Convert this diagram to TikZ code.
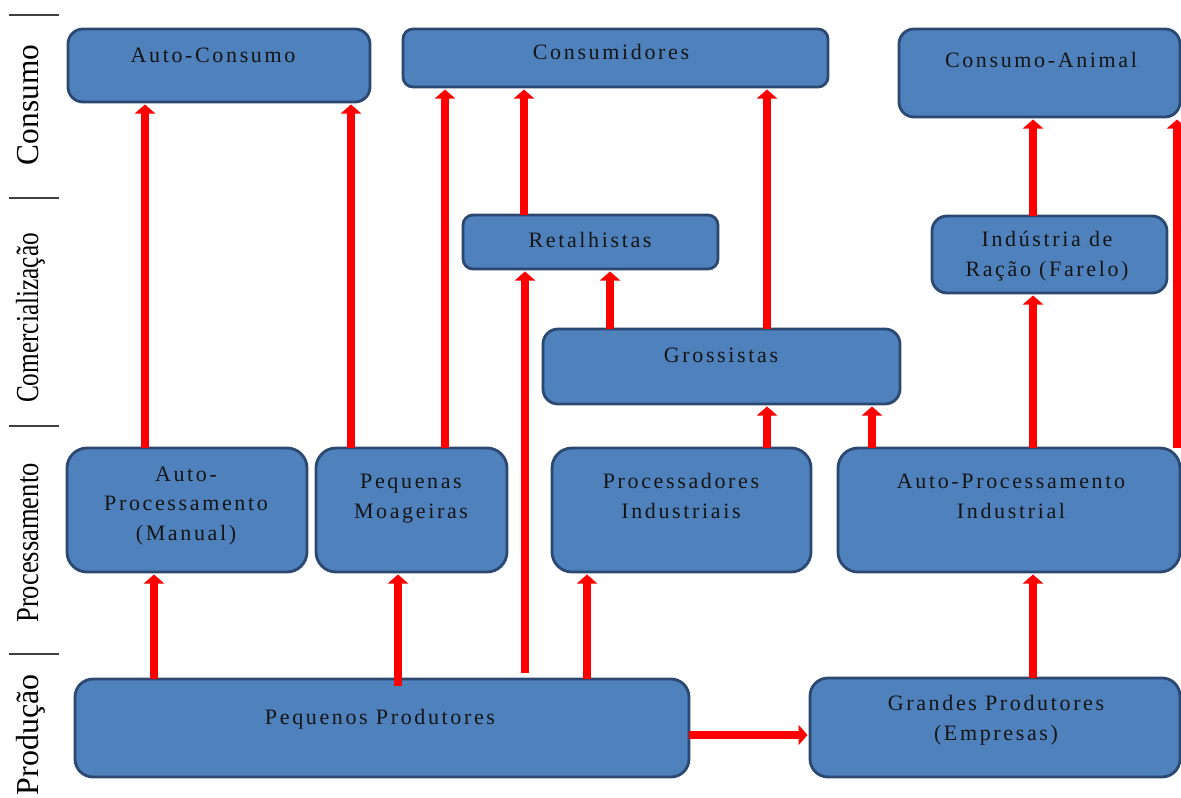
\documentclass[tikz,border=0pt]{standalone}
\usepackage{fontspec}
\setmainfont{Liberation Serif}
\newfontfamily\boxfont[LetterSpace=12]{Liberation Serif}
\usetikzlibrary{arrows.meta}
\definecolor{boxfill}{HTML}{4F81BD}
\definecolor{boxline}{HTML}{2A4870}
\definecolor{txt}{HTML}{151515}
\definecolor{sep}{HTML}{404040}
\begin{document}
\begin{tikzpicture}[x=1pt,y=-1pt,
  box/.style={draw=boxline, fill=boxfill, line width=2.8pt, rounded corners=15pt,
    inner sep=0pt, outer sep=0pt},
  smallbox/.style={box, rounded corners=10pt},
  lbl/.style={font=\boxfont\fontsize{22}{29.5}\selectfont, text=txt, align=center, anchor=base, inner sep=0pt},
  side/.style={font=\fontsize{32}{36}\selectfont, rotate=90, anchor=base, inner sep=0pt},
  arr/.style={draw=red, line width=8pt, -{Triangle[width=20pt,length=9pt]}, shorten >=2.5pt},
  sepline/.style={draw=sep, line width=1.6pt}]
\useasboundingbox (0,0) rectangle (1181,798);

% separators
\draw[sepline] (9,15) -- (59,15);
\draw[sepline] (9,198) -- (59,198);
\draw[sepline] (9,426) -- (59,426);
\draw[sepline] (9,654) -- (59,654);

% side labels
\node[side] (sCons) at (38,105) {\scalebox{0.98}[1]{Consumo}};
\node[side] (sCom) at (38,318) {\scalebox{0.79}[1]{Comercialização}};
\node[side] (sProc) at (38,543) {\scalebox{0.83}[1]{Processamento}};
\node[side] (sProd) at (38,735) {\scalebox{1.0}[1]{Produção}};

% boxes
\node[box, minimum width=302pt, minimum height=73pt] (ac) at (219,65.5) {};
\node[smallbox, minimum width=425pt, minimum height=58pt] (cons) at (615.5,58) {};
\node[box, minimum width=281pt, minimum height=88pt] (ca) at (1039.5,73) {};
\node[smallbox, minimum width=255pt, minimum height=54pt] (ret) at (590.5,242) {};
\node[box, minimum width=235pt, minimum height=77pt] (ind) at (1049.5,254.5) {};
\node[box, minimum width=357pt, minimum height=75pt] (gro) at (721.5,366.5) {};
\node[box, rounded corners=20pt, minimum width=240pt, minimum height=124pt] (apm) at (187,510) {};
\node[box, rounded corners=20pt, minimum width=191pt, minimum height=124pt] (pm) at (411.5,510) {};
\node[box, rounded corners=20pt, minimum width=259pt, minimum height=124pt] (pi) at (681.5,510) {};
\node[box, rounded corners=20pt, minimum width=342pt, minimum height=124pt] (api) at (1009,510) {};
\node[box, rounded corners=18pt, minimum width=614pt, minimum height=98pt] (pp) at (382,728) {};
\node[box, rounded corners=18pt, minimum width=370pt, minimum height=99pt] (gp) at (995,727.5) {};

% texts (anchor = baseline of the last line)
\node[lbl] (tac) at (213,62) {Auto-Consumo};
\node[lbl] (tcons) at (611,59) {Consumidores};
\node[lbl] (tca) at (1041,67) {Consumo-Animal};
\node[lbl] (tret) at (590,247) {Retalhistas};
\node[lbl] (tind) at (1047,276) {Indústria de\\Ração (Farelo)};
\node[lbl] (tgro) at (721,362) {Grossistas};
\node[lbl] (tapm) at (186,540) {Auto-\\Processamento\\(Manual)};
\node[lbl] (tpm) at (411,518) {Pequenas\\Moageiras};
\node[lbl] (tpi) at (681,518) {Processadores\\Industriais};
\node[lbl] (tapi) at (1011,518) {Auto-Processamento\\Industrial};
\node[lbl] (tpp) at (380,724) {Pequenos Produtores};
\node[lbl] (tgp) at (996,740) {Grandes Produtores\\(Empresas)};

% free ends
\coordinate (ppr) at (525,673);
\coordinate (pps) at (398,686);

% arrows
\draw[arr] (145,0 |- apm.north) -- (145,0 |- ac.south);
\draw[arr] (351,0 |- pm.north) -- (351,0 |- ac.south);
\draw[arr] (445,0 |- pm.north) -- (445,0 |- cons.south);
\draw[arr] (524,0 |- ret.north) -- (524,0 |- cons.south);
\draw[arr] (767,0 |- gro.north) -- (767,0 |- cons.south);
\draw[arr] (1033,0 |- ind.north) -- (1033,0 |- ca.south);
\draw[arr] (1177,0 |- api.north) -- (1177,0 |- ca.south);
\draw[arr] (ppr) -- (ppr |- ret.south);
\draw[arr] (610,0 |- gro.north) -- (610,0 |- ret.south);
\draw[arr] (767,0 |- pi.north) -- (767,0 |- gro.south);
\draw[arr] (872,0 |- api.north) -- (872,0 |- gro.south);
\draw[arr] (1033,0 |- api.north) -- (1033,0 |- ind.south);
\draw[arr] (154,0 |- pp.north) -- (154,0 |- apm.south);
\draw[arr] (pps) -- (pps |- pm.south);
\draw[arr] (587,0 |- pp.north) -- (587,0 |- pi.south);
\draw[arr] (1033,0 |- gp.north) -- (1033,0 |- api.south);
\draw[arr] (pp.east |- 0,735) -- (gp.west |- 0,735);
\end{tikzpicture}
\end{document}
